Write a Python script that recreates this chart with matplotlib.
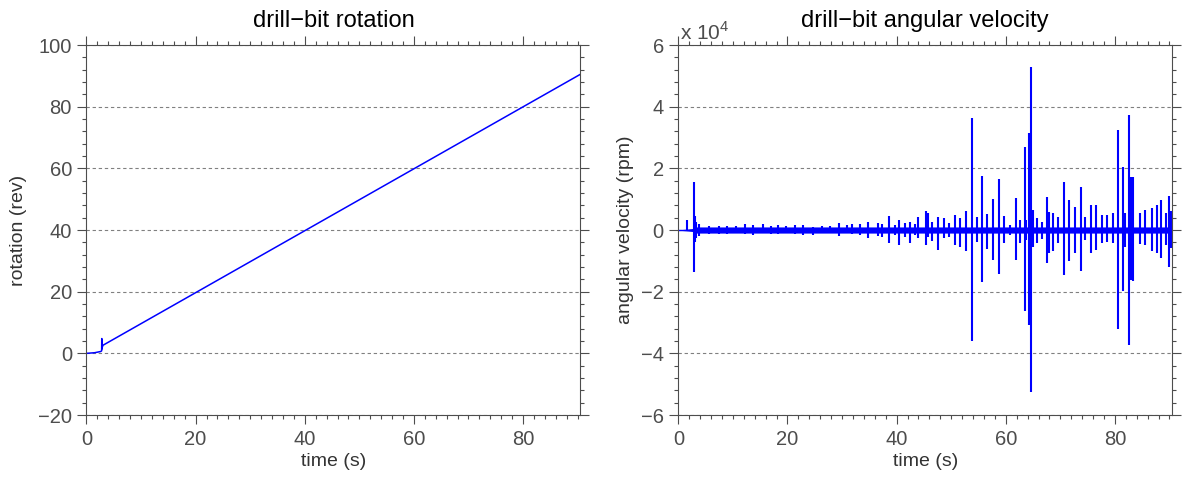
"""
Drill-bit rotation and angular velocity, two panels side by side,
MATLAB-like look (outward ticks on all sides, dashed horizontal grid).
"""
import matplotlib
matplotlib.use("Agg")
import matplotlib.pyplot as plt
from matplotlib.ticker import MultipleLocator, FuncFormatter

plt.rcParams['font.family'] = ['Liberation Sans', 'DejaVu Sans']
plt.rcParams['mathtext.fontset'] = 'custom'
plt.rcParams['mathtext.rm'] = 'Liberation Sans'

# --- data ----------------------------------------------------------------
# rotation (rev) vs time (s)
rot_time = [0.0, 1.5, 2.6, 2.78, 2.80, 2.83, 2.86, 2.90, 3.0, 90.5]
rot_rev = [0.0, 0.2, 0.6, 0.8, 4.8, 1.4, 3.8, 2.0, 2.6, 90.5]

# angular velocity: background band half-width (rpm)
band_time = [0.0, 1.4, 2.7, 3.0, 90.5]
band_halfwidth = [100, 250, 500, 1000, 1000]

# angular velocity bursts: time (s), positive peak and negative peak (rpm)
burst_time = [
    1.5, 2.8, 3.0, 3.3, 3.7, 5.7, 7.5, 9.0, 10.6, 12.3, 13.7, 15.5, 17.0,
    18.2, 19.7, 21.3, 22.8, 24.7, 26.3, 27.8, 29.5, 30.9, 31.8, 33.3, 34.8,
    36.5, 37.3, 38.6, 39.7, 40.5, 41.5, 42.5, 43.4, 44.0, 45.4, 45.8, 46.4,
    47.6, 48.7, 49.6, 50.7, 51.6, 52.8, 53.8, 54.7, 55.7, 56.6, 57.7, 58.8,
    59.6, 60.7, 61.8, 62.7, 63.5, 63.8, 64.3, 64.6, 64.9, 65.8, 66.6, 67.5,
    67.9, 68.7, 69.6, 70.7, 71.6, 72.7, 73.7, 74.5, 75.6, 76.5, 77.6, 78.5,
    79.6, 80.6, 81.4, 81.9, 82.6, 82.9, 83.4, 84.6, 85.6, 86.8, 87.7, 88.5,
    89.4, 89.9, 90.3,
]
burst_up = [
    3200, 15700, 4500, 2700, 2000, 1200, 1200, 1200, 1300, 1900, 1600, 1800,
    1300, 1600, 1300, 1600, 1600, 1100, 1300, 1300, 2400, 1600, 1800, 1900,
    2500, 2200, 1900, 4500, 1600, 3200, 2200, 2700, 1900, 4300, 6200, 5400,
    2700, 4300, 3800, 2200, 4900, 3800, 6300, 36200, 4300, 17500, 5200, 10000,
    16400, 4500, 1600, 10300, 3200, 27000, 3200, 31400, 52800, 6500, 3800,
    2700, 10600, 6000, 5600, 4300, 15500, 9600, 7600, 14100, 4100, 8100, 8000,
    4900, 4900, 5600, 32600, 20500, 5400, 37300, 17300, 17100, 5600, 6500,
    7000, 8100, 9700, 5400, 11000, 6300,
]
burst_down = [
    0, -13500, -4000, -2700, -2000, -1200, -1200, -1200, -1100, -1300, -1600,
    -1100, -1300, -1300, -1100, -1300, -1600, -1600, -1100, -1100, -1900,
    -1100, -1300, -1600, -2700, -1900, -2200, -4100, -1600, -4900, -2200,
    -4300, -1600, -2700, -4900, -2200, -3500, -6500, -2700, -2200, -4900,
    -5400, -6700, -36000, -3800, -17000, -6200, -9700, -14400, -4300, -1600,
    -9700, -4100, -26200, -3200, -30800, -52600, -5400, -4300, -3000, -10800,
    -7600, -6900, -4300, -14600, -10000, -7400, -13200, -3200, -7600, -6500,
    -4300, -3800, -4300, -32200, -19700, -5400, -37400, -16200, -16400, -4500,
    -4900, -6700, -7600, -9200, -4900, -11900, -5900,
]

# tick / axis settings
x_limits = (0, 90.5)
x_major, x_minor = 20, 2
rot_limits = (-20, 100)
rot_major, rot_minor = 20, 4
vel_limits = (-60000, 60000)
vel_major, vel_minor = 20000, 4000

LINE = '#0000ff'
GRAY = '#4d4d4d'


def style_axes(ax):
    ax.set_xlim(*x_limits)
    ax.xaxis.set_major_locator(MultipleLocator(x_major))
    ax.xaxis.set_minor_locator(MultipleLocator(x_minor))
    ax.tick_params(which='both', direction='out', top=True, right=True,
                   colors=GRAY, labelcolor=GRAY, width=0.8)
    ax.tick_params(which='major', length=6.5, labelsize=14.5, pad=4)
    ax.tick_params(which='minor', length=2.8)
    for sp in ax.spines.values():
        sp.set_color(GRAY)
        sp.set_linewidth(0.8)
    ax.yaxis.grid(True, which='major', linestyle=(0, (3, 2.5)),
                  color='#808080', linewidth=0.8)
    ax.set_axisbelow(True)
    ax.set_xlabel('time (s)', fontsize=14, color='#333333', labelpad=3)


fig = plt.figure(figsize=(11.88, 4.79), dpi=100)
ax1 = fig.add_axes([0.0728, 0.1336, 0.4157, 0.7724])
ax2 = fig.add_axes([0.5710, 0.1336, 0.4157, 0.7724])

# left: rotation
style_axes(ax1)
ax1.plot(rot_time, rot_rev, color=LINE, linewidth=1.1)
ax1.set_ylim(*rot_limits)
ax1.yaxis.set_major_locator(MultipleLocator(rot_major))
ax1.yaxis.set_minor_locator(MultipleLocator(rot_minor))
ax1.set_ylabel('rotation (rev)', fontsize=14, color='#333333', labelpad=8)
ax1.set_title('drill\u2212bit rotation', fontsize=17, color='black', pad=13)

# right: angular velocity
style_axes(ax2)
ax2.fill_between(band_time, [-h for h in band_halfwidth], band_halfwidth,
                 color=LINE, linewidth=0)
ax2.plot(x_limits, [0, 0], color=LINE, linewidth=1.0)
ax2.vlines(burst_time, burst_down, burst_up, color=LINE, linewidth=1.5)
ax2.set_ylim(*vel_limits)
ax2.yaxis.set_major_locator(MultipleLocator(vel_major))
ax2.yaxis.set_minor_locator(MultipleLocator(vel_minor))
ax2.yaxis.set_major_formatter(
    FuncFormatter(lambda v, p: f"{v / 1e4:g}".replace('-', '\u2212')))
ax2.set_ylabel('angular velocity (rpm)', fontsize=14, color='#333333',
               labelpad=5)
ax2.set_title('drill\u2212bit angular velocity', fontsize=17, color='black',
              pad=13)
ax2.text(0.003, 1.002, r'x 10$^4$', transform=ax2.transAxes, fontsize=15,
         color=GRAY, ha='left', va='bottom')

fig.savefig('out.png', dpi=100)
